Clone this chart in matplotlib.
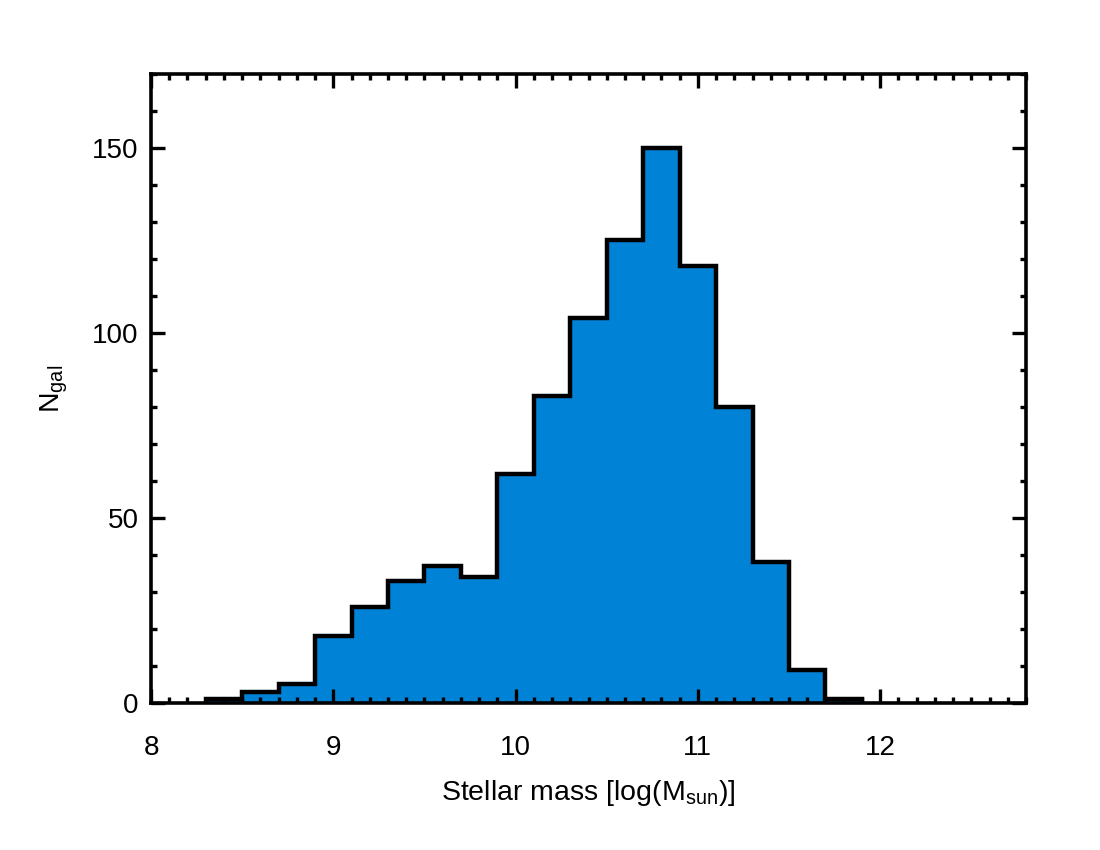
import numpy as np
import matplotlib
matplotlib.use("Agg")
import matplotlib.pyplot as plt
from matplotlib.ticker import MultipleLocator

plt.rcParams["font.family"] = ["Liberation Sans", "DejaVu Sans"]
plt.rcParams["mathtext.default"] = "regular"

# histogram bins (log stellar mass) and counts
bin_edges = [8.3, 8.5, 8.7, 8.9, 9.1, 9.3, 9.5, 9.7, 9.9, 10.1,
             10.3, 10.5, 10.7, 10.9, 11.1, 11.3, 11.5, 11.7, 11.9]
counts = [1, 3, 5, 18, 26, 33, 37, 34, 62, 83,
          104, 125, 150, 118, 80, 38, 9, 1]

fig = plt.figure(figsize=(11, 8.5), dpi=100)
ax = fig.add_axes([0.1373, 0.173, 0.7954, 0.740])

edges = np.array(bin_edges)
ax.stairs(counts, edges, fill=True, color="#0082d6", zorder=1)
ax.stairs(counts, edges, color="black", linewidth=3.2, baseline=0, zorder=2)

ax.set_xlim(8, 12.8)
ax.set_ylim(0, 170)

ax.xaxis.set_major_locator(MultipleLocator(1))
ax.xaxis.set_minor_locator(MultipleLocator(0.1))
ax.yaxis.set_major_locator(MultipleLocator(50))
ax.yaxis.set_minor_locator(MultipleLocator(10))

ax.tick_params(which="both", direction="in", top=True, right=True, width=2.4, labelsize=20)
ax.tick_params(which="major", length=10)
ax.tick_params(which="minor", length=4.5)
ax.tick_params(axis="x", which="major", pad=23)
ax.tick_params(axis="y", which="major", pad=9)
for s in ax.spines.values():
    s.set_linewidth(2.6)

ax.set_xlabel("Stellar mass [log(M$_{sun}$)]", fontsize=20.5, labelpad=12)
ax.set_ylabel("N$_{gal}$", fontsize=20.5, labelpad=16)

fig.savefig("out.png", dpi=100)
